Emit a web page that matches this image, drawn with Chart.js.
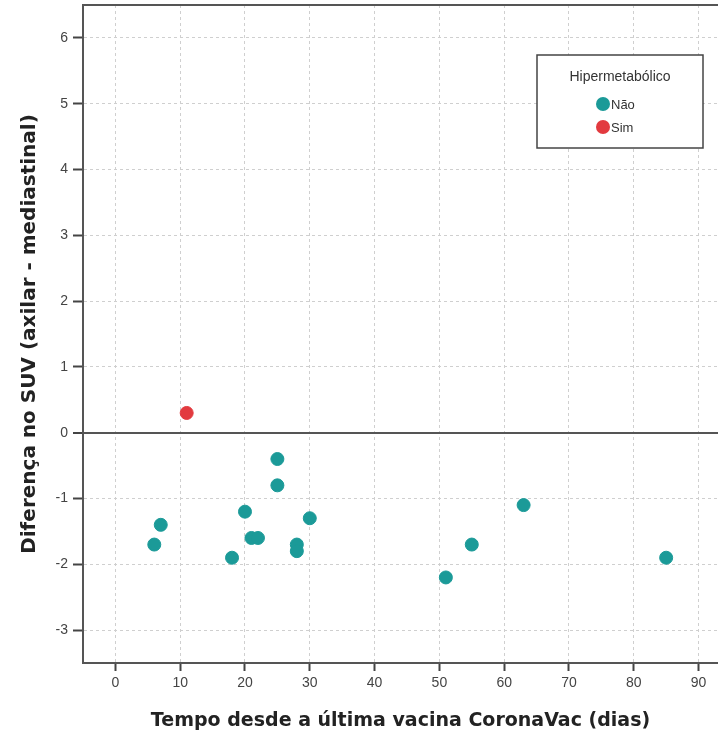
<!DOCTYPE html>
<html>
<head>
<meta charset="utf-8">
<script src="https://cdn.jsdelivr.net/npm/chart.js@4/dist/chart.umd.min.js"></script>
<style>
  html, body { margin: 0; padding: 0; background: #fff; overflow: hidden; }
  #wrap { width: 718px; height: 732px; position: relative; }
</style>
</head>
<body>
<div id="wrap"><canvas id="scatterChart"></canvas></div>
<script>
// Days since last CoronaVac dose vs SUV difference (axillary - mediastinal)
const naoDays = [6, 7, 18, 20, 21, 22, 25, 25, 28, 28, 30, 51, 55, 63, 85];
const naoDiff = [-1.7, -1.4, -1.9, -1.2, -1.6, -1.6, -0.4, -0.8, -1.7, -1.8, -1.3, -2.2, -1.7, -1.1, -1.9];
const simDays = [11];
const simDiff = [0.3];

const xTickValues = [0, 10, 20, 30, 40, 50, 60, 70, 80, 90];
const yTickValues = [-3, -2, -1, 0, 1, 2, 3, 4, 5, 6];

const legendTitle = 'Hipermetabólico';
const groupLabels = ['Não', 'Sim'];

const teal = '#1b9a98';
const red = '#e23a3f';
const axisDark = '#555555';
const gridLight = '#cfcfcf';

Chart.defaults.font.family = "'Liberation Sans', Arial, sans-serif";
Chart.defaults.color = '#444';

function toPoints(xs, ys) {
    return xs.map((x, i) => ({ x: x, y: ys[i] }));
}

// stretch the plot to the right edge and pin its top, like the cropped original
const areaPlugin = {
    id: 'pinArea',
    afterLayout(chart) {
        const area = chart.chartArea;
        const x = chart.scales.x, y = chart.scales.y;
        area.right = chart.width;
        area.top = 5;
        area.width = area.right - area.left;
        area.height = area.bottom - area.top;
        x.right = area.right;
        x.width = x.right - x.left;
        x.configure();
        y.top = area.top;
        y.height = y.bottom - y.top;
        y.configure();
    }
};

// top frame line + boxed legend inside the plot
const framePlugin = {
    id: 'frameAndLegend',
    afterDraw(chart) {
        const { ctx, chartArea } = chart;
        ctx.save();
        ctx.strokeStyle = axisDark;
        ctx.lineWidth = 2;
        ctx.beginPath();
        ctx.moveTo(chartArea.left, chartArea.top);
        ctx.lineTo(chartArea.right, chartArea.top);
        ctx.stroke();

        // legend box
        const bx = 537, by = 55, bw = 166, bh = 93;
        ctx.fillStyle = '#fff';
        ctx.fillRect(bx, by, bw, bh);
        ctx.strokeStyle = '#444';
        ctx.lineWidth = 1.5;
        ctx.strokeRect(bx, by, bw, bh);

        ctx.fillStyle = '#333';
        ctx.font = "14px 'Liberation Sans', Arial, sans-serif";
        ctx.textAlign = 'center';
        ctx.textBaseline = 'middle';
        ctx.fillText(legendTitle, bx + bw / 2, by + 22);

        ctx.textAlign = 'left';
        ctx.font = "13px 'Liberation Sans', Arial, sans-serif";
        chart.data.datasets.forEach((ds, i) => {
            const cy = by + 49 + i * 23;
            ctx.beginPath();
            ctx.arc(bx + 66, cy, 7, 0, Math.PI * 2);
            ctx.fillStyle = ds.backgroundColor;
            ctx.fill();
            ctx.fillStyle = '#333';
            ctx.fillText(ds.label, bx + 74, cy + 1);
        });
        ctx.restore();
    }
};

const ctx = document.getElementById('scatterChart');
new Chart(ctx, {
    type: 'scatter',
    data: {
        datasets: [{
            label: groupLabels[0],
            data: toPoints(naoDays, naoDiff),
            backgroundColor: teal,
            borderColor: teal,
            pointRadius: 6.5,
            pointHoverRadius: 7
        }, {
            label: groupLabels[1],
            data: toPoints(simDays, simDiff),
            backgroundColor: red,
            borderColor: red,
            pointRadius: 6.5,
            pointHoverRadius: 7
        }]
    },
    options: {
        responsive: true,
        maintainAspectRatio: false,
        animation: false,
        layout: { padding: { top: 5, right: 0, bottom: 0, left: 0 } },
        plugins: {
            legend: { display: false },
            tooltip: { enabled: true }
        },
        scales: {
            x: {
                type: 'linear',
                min: -5,
                max: 93,
                afterBuildTicks: (scale) => { scale.ticks = xTickValues.map(v => ({ value: v })); },
                afterFit: (scale) => {
                    scale.height = 69;
                    scale.paddingLeft = 0;
                    scale.paddingRight = 0;
                },
                ticks: { font: { size: 14 }, color: '#444', padding: 4, maxRotation: 0 },
                grid: {
                    color: gridLight,
                    lineWidth: 1,
                    tickColor: '#444',
                    tickLength: 8,
                    tickWidth: 2
                },
                border: { color: axisDark, width: 2, dash: [3, 3] },
                title: {
                    display: true,
                    text: 'Tempo desde a última vacina CoronaVac (dias)',
                    font: { family: "'DejaVu Sans', sans-serif", size: 19, weight: 'bold' },
                    color: '#222',
                    padding: { top: 0, bottom: 0 }
                }
            },
            y: {
                type: 'linear',
                min: -3.5,
                max: 6.5,
                afterBuildTicks: (scale) => { scale.ticks = yTickValues.map(v => ({ value: v })); },
                afterFit: (scale) => {
                    scale.width = 83;
                    scale.paddingTop = 0;
                    scale.paddingBottom = 0;
                },
                ticks: { font: { size: 14 }, color: '#444', padding: 5 },
                grid: {
                    color: (c) => c.tick && c.tick.value === 0 ? axisDark : gridLight,
                    lineWidth: (c) => c.tick && c.tick.value === 0 ? 2 : 1,
                    tickColor: '#444',
                    tickLength: 10,
                    tickWidth: 2
                },
                border: {
                    color: axisDark,
                    width: 2,
                    dash: (c) => c.tick && c.tick.value === 0 ? [] : [3, 3]
                },
                title: {
                    display: true,
                    text: 'Diferença no SUV (axilar - mediastinal)',
                    font: { family: "'DejaVu Sans', sans-serif", size: 20, weight: 'bold' },
                    color: '#222',
                    padding: { top: 18, bottom: 0 }
                }
            }
        }
    },
    plugins: [areaPlugin, framePlugin]
});
</script>
</body>
</html>
